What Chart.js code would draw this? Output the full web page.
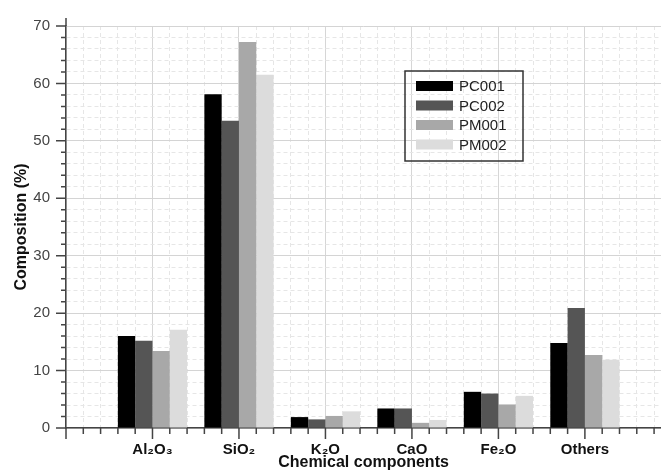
<!DOCTYPE html>
<html lang="en">
<head>
    <meta charset="UTF-8">
    <title>Chemical components</title>
    <script src="https://cdn.jsdelivr.net/npm/chart.js@4.4.1/dist/chart.umd.min.js"></script>
    <style>
        body { margin: 0; background: #fff; }
    </style>
</head>
<body>
    <canvas id="compChart" width="661" height="471"></canvas>
    <script>
        // data
        const categories = ['Al\u2082O\u2083', 'SiO\u2082', 'K\u2082O', 'CaO', 'Fe\u2082O', 'Others'];
        const seriesNames = ['PC001', 'PC002', 'PM001', 'PM002'];
        const pc001 = [16.0, 58.1, 1.9, 3.4, 6.3, 14.8];
        const pc002 = [15.2, 53.5, 1.5, 3.4, 6.0, 20.9];
        const pm001 = [13.4, 67.2, 2.1, 0.9, 4.1, 12.7];
        const pm002 = [17.1, 61.5, 2.9, 1.4, 5.6, 11.9];
        const yTicks = [0, 10, 20, 30, 40, 50, 60, 70];

        const colors = ['#000000', '#555555', '#a8a8a8', '#dcdcdc'];
        const font = "'Liberation Sans', Arial, sans-serif";
        const isInt = v => Math.abs(v - Math.round(v)) < 1e-9;
        const tickVal = ctx => (ctx.tick ? ctx.tick.value : null);

        function toPoints(values) {
            return values.map((v, i) => ({ x: i + 1, y: v }));
        }

        const datasets = [pc001, pc002, pm001, pm002].map((vals, i) => ({
            label: seriesNames[i],
            data: toPoints(vals),
            backgroundColor: colors[i],
            borderWidth: 0,
            categoryPercentage: 0.8,
            barPercentage: 1.0
        }));

        // tick marks, axis stub and boxed legend
        const decorations = {
            id: 'decorations',
            afterDraw(chart) {
                const { ctx, chartArea, scales } = chart;
                ctx.save();
                ctx.strokeStyle = '#444';
                ctx.lineWidth = 1.5;
                ctx.beginPath();
                scales.y.ticks.forEach(t => {
                    const py = scales.y.getPixelForValue(t.value);
                    const len = yTicks.includes(t.value) ? 10 : 5;
                    ctx.moveTo(chartArea.left - len, py);
                    ctx.lineTo(chartArea.left, py);
                });
                scales.x2.ticks.forEach(t => {
                    const px = scales.x2.getPixelForValue(t.value);
                    const len = isInt(t.value) ? 11 : 6;
                    ctx.moveTo(px, chartArea.bottom);
                    ctx.lineTo(px, chartArea.bottom + len);
                });
                ctx.moveTo(chartArea.left, chartArea.top);
                ctx.lineTo(chartArea.left, chartArea.top - 8);
                ctx.stroke();

                // legend
                const lx = chartArea.left + 339, ly = chartArea.top + 45;
                ctx.strokeStyle = '#333';
                ctx.lineWidth = 1.5;
                ctx.strokeRect(lx, ly, 118, 90);
                ctx.font = '15px ' + font;
                ctx.textBaseline = 'middle';
                chart.data.datasets.forEach((ds, i) => {
                    const cy = ly + 15 + i * 19.5;
                    ctx.fillStyle = ds.backgroundColor;
                    ctx.fillRect(lx + 11, cy - 5, 37, 10);
                    ctx.fillStyle = '#222';
                    ctx.fillText(ds.label, lx + 54, cy + 1);
                });
                ctx.restore();
            }
        };

        new Chart(document.getElementById('compChart'), {
            type: 'bar',
            data: { datasets: datasets },
            options: {
                responsive: false,
                animation: false,
                devicePixelRatio: 1,
                layout: { padding: { top: 26, right: 0, left: 0, bottom: 0 } },
                plugins: {
                    legend: { display: false },
                    tooltip: { enabled: false }
                },
                scales: {
                    x: {
                        type: 'linear',
                        min: 0,
                        max: 6.88,
                        offset: false,
                        afterFit: scale => { scale.height = 43; },
                        ticks: {
                            stepSize: 1,
                            includeBounds: false,
                            padding: 13,
                            maxRotation: 0,
                            autoSkip: false,
                            color: '#111',
                            font: { family: font, size: 15, weight: 'bold' },
                            callback: v => categories[v - 1] || ''
                        },
                        grid: { offset: false, color: '#d6d6d6', lineWidth: 1, drawTicks: false },
                        border: { color: '#444', width: 1.5 },
                        title: {
                            display: true,
                            text: 'Chemical components',
                            color: '#111',
                            padding: { top: 0, bottom: 0 },
                            font: { family: font, size: 16, weight: 'bold', lineHeight: 1 }
                        }
                    },
                    x2: {
                        type: 'linear',
                        position: 'bottom',
                        min: 0,
                        max: 6.88,
                        offset: false,
                        afterFit: scale => { scale.height = 0; },
                        ticks: { stepSize: 0.2, includeBounds: false, display: false, autoSkip: false },
                        grid: {
                            offset: false,
                            drawTicks: false,
                            color: ctx => {
                                const v = tickVal(ctx);
                                return (v === null || isInt(v)) ? 'rgba(0,0,0,0)' : '#e6e6e6';
                            }
                        },
                        border: { display: false, dash: [4, 3] }
                    },
                    y: {
                        min: 0,
                        max: 70,
                        afterFit: scale => { scale.width = 66; },
                        ticks: {
                            stepSize: 2,
                            padding: 16,
                            autoSkip: false,
                            color: '#444',
                            font: { family: font, size: 15 },
                            callback: v => yTicks.includes(v) ? v : ''
                        },
                        grid: {
                            drawTicks: false,
                            color: ctx => {
                                const v = tickVal(ctx);
                                return (v === null || yTicks.includes(v)) ? '#d4d4d4' : '#e6e6e6';
                            }
                        },
                        border: {
                            color: '#444',
                            width: 1.5,
                            dash: ctx => {
                                const v = tickVal(ctx);
                                return (v !== null && !yTicks.includes(v)) ? [4, 3] : [];
                            }
                        },
                        title: {
                            display: true,
                            text: 'Composition (%)',
                            color: '#111',
                            padding: { top: 12, bottom: 0 },
                            font: { family: font, size: 16, weight: 'bold' }
                        }
                    }
                }
            },
            plugins: [decorations]
        });
    </script>
</body>
</html>
